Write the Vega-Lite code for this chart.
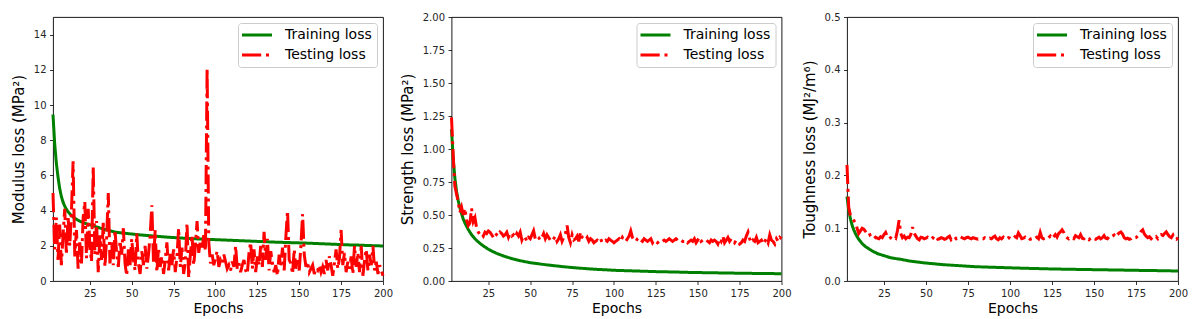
{
"$schema": "https://vega.github.io/schema/vega-lite/v6.json",
"background": "white",
"padding": {"left": 10, "top": 11, "right": 0, "bottom": 0},
"spacing": 9,
"config": {
  "font": "DejaVu Sans",
  "view": {"stroke": "black", "strokeWidth": 0.9},
  "axis": {"grid": false, "domain": false, "tickColor": "black", "tickSize": 3.5, "tickWidth": 0.8, "labelFontSize": 10, "labelColor": "#262626", "labelPadding": 3.5, "titleFontSize": 14, "titleFontWeight": "normal", "titleColor": "black", "labelFont": "DejaVu Sans", "titleFont": "DejaVu Sans"},
  "axisY": {"titlePadding": 7, "titleFontSize": 15},
  "axisX": {"titlePadding": 3, "labelFlush": false}
},
"datasets": {"d": [
{"e":3,"mtr":9.46,"mte":5.0,"str":1.15,"ste":1.24,"ttr":0.16,"tte":0.22},
{"e":4,"mtr":7.8,"mte":1.8,"str":0.93,"ste":0.95,"ttr":0.135,"tte":0.14},
{"e":5,"mtr":6.7,"mte":3.6,"str":0.78,"ste":0.72,"ttr":0.118,"tte":0.125},
{"e":6,"mtr":5.9,"mte":1.2,"str":0.68,"ste":0.66,"ttr":0.106,"tte":0.12},
{"e":7,"mtr":5.25,"mte":3.2,"str":0.61,"ste":0.60,"ttr":0.097,"tte":0.115},
{"e":8,"mtr":4.8,"mte":0.9,"str":0.555,"ste":0.52,"ttr":0.09,"tte":0.11},
{"e":9,"mtr":4.48,"mte":2.6,"str":0.51,"ste":0.56,"ttr":0.084,"tte":0.10},
{"e":10,"mtr":4.25,"mte":4.1,"str":0.47,"ste":0.50,"ttr":0.079,"tte":0.09},
{"e":11,"mtr":4.07,"mte":1.5,"str":0.44,"ste":0.55,"ttr":0.075,"tte":0.095},
{"e":12,"mtr":3.93,"mte":3.7,"str":0.415,"ste":0.46,"ttr":0.071,"tte":0.10},
{"e":13,"mtr":3.82,"mte":2.0,"str":0.39,"ste":0.42,"ttr":0.068,"tte":0.098},
{"e":14,"mtr":3.72,"mte":3.9,"str":0.37,"ste":0.44,"ttr":0.065,"tte":0.094},
{"e":15,"mtr":3.64,"mte":6.8,"str":0.35,"ste":0.55,"ttr":0.063,"tte":0.09},
{"e":16,"mtr":3.57,"mte":1.4,"str":0.335,"ste":0.45,"ttr":0.061,"tte":0.092},
{"e":17,"mtr":3.51,"mte":2.9,"str":0.32,"ste":0.48,"ttr":0.059,"tte":0.085},
{"e":18,"mtr":3.45,"mte":0.7,"str":0.307,"ste":0.40,"ttr":0.057,"tte":0.082},
{"e":19,"mtr":3.40,"mte":2.2,"str":0.296,"ste":0.37,"ttr":0.055,"tte":0.08},
{"e":20,"mtr":3.36,"mte":1.0,"str":0.285,"ste":0.35,"ttr":0.054,"tte":0.083},
{"e":21,"mtr":3.32,"mte":3.6,"str":0.275,"ste":0.36,"ttr":0.052,"tte":0.081},
{"e":22,"mtr":3.28,"mte":4.5,"str":0.266,"ste":0.34,"ttr":0.051,"tte":0.08},
{"e":23,"mtr":3.25,"mte":1.3,"str":0.257,"ste":0.37,"ttr":0.05,"tte":0.084},
{"e":24,"mtr":3.22,"mte":4.1,"str":0.249,"ste":0.36,"ttr":0.049,"tte":0.082},
{"e":25,"mtr":3.19,"mte":2.0,"str":0.241,"ste":0.38,"ttr":0.048,"tte":0.088},
{"e":26,"mtr":3.16,"mte":1.1,"str":0.234,"ste":0.37,"ttr":0.047,"tte":0.092},
{"e":27,"mtr":3.13,"mte":6.5,"str":0.227,"ste":0.35,"ttr":0.046,"tte":0.084},
{"e":28,"mtr":3.10,"mte":1.5,"str":0.221,"ste":0.33,"ttr":0.045,"tte":0.08},
{"e":29,"mtr":3.07,"mte":3.4,"str":0.215,"ste":0.36,"ttr":0.044,"tte":0.082},
{"e":30,"mtr":3.04,"mte":0.5,"str":0.209,"ste":0.35,"ttr":0.0435,"tte":0.08},
{"e":31,"mte":2.6,"ste":0.34,"tte":0.083},
{"e":32,"mte":1.2,"ste":0.37,"tte":0.081},
{"e":33,"mte":3.3,"ste":0.36,"tte":0.095},
{"e":34,"mte":0.8,"ste":0.34,"tte":0.115},
{"e":35,"mtr":2.90,"mte":2.4,"str":0.185,"ste":0.35,"ttr":0.041,"tte":0.09},
{"e":36,"mte":5.0,"ste":0.37,"tte":0.082},
{"e":37,"mte":1.0,"ste":0.33,"tte":0.085},
{"e":38,"mte":2.2,"ste":0.36,"tte":0.08},
{"e":39,"mte":0.9,"ste":0.34,"tte":0.083},
{"e":40,"mtr":2.78,"mte":2.9,"str":0.166,"ste":0.35,"ttr":0.038,"tte":0.082},
{"e":41,"mte":1.6,"ste":0.33,"tte":0.088},
{"e":42,"mte":0.8,"ste":0.36,"tte":0.102},
{"e":43,"mte":2.3,"ste":0.34,"tte":0.09},
{"e":44,"mte":1.5,"ste":0.37,"tte":0.085},
{"e":45,"mtr":2.72,"mte":3.0,"str":0.151,"ste":0.31,"ttr":0.036,"tte":0.08},
{"e":46,"mte":1.0,"ste":0.34,"tte":0.078},
{"e":47,"mte":0.3,"ste":0.33,"tte":0.083},
{"e":48,"mte":1.8,"ste":0.30,"tte":0.082},
{"e":49,"mte":0.9,"ste":0.33,"tte":0.08},
{"e":50,"mtr":2.67,"mte":2.4,"str":0.139,"ste":0.32,"ttr":0.034,"tte":0.081},
{"e":51,"mte":1.2,"ste":0.35,"tte":0.083},
{"e":52,"mte":0.6,"ste":0.38,"tte":0.08},
{"e":53,"mte":2.7,"ste":0.32,"tte":0.079},
{"e":54,"mte":1.0,"ste":0.34,"tte":0.082},
{"e":55,"mtr":2.62,"mte":0.4,"str":0.13,"ste":0.33,"ttr":0.0325,"tte":0.08},
{"e":56,"mte":1.7,"ste":0.31,"tte":0.084},
{"e":57,"mte":0.9,"ste":0.33,"tte":0.079},
{"e":58,"mte":2.0,"ste":0.36,"tte":0.08},
{"e":59,"mte":0.7,"ste":0.32,"tte":0.082},
{"e":60,"mtr":2.58,"mte":1.5,"str":0.122,"ste":0.35,"ttr":0.031,"tte":0.081},
{"e":61,"mte":2.6,"ste":0.33,"tte":0.079},
{"e":62,"mte":4.3,"ste":0.31,"tte":0.08},
{"e":63,"mte":1.1,"ste":0.30,"tte":0.083},
{"e":64,"mte":2.9,"ste":0.32,"tte":0.085},
{"e":65,"mtr":2.54,"mte":0.5,"str":0.115,"ste":0.34,"ttr":0.030,"tte":0.078},
{"e":66,"mte":1.9,"ste":0.30,"tte":0.081},
{"e":67,"mte":0.8,"ste":0.32,"tte":0.084},
{"e":68,"mte":1.4,"ste":0.35,"tte":0.08},
{"e":69,"mte":0.4,"ste":0.30,"tte":0.082},
{"e":70,"mtr":2.50,"mte":1.2,"str":0.108,"ste":0.33,"ttr":0.029,"tte":0.085},
{"e":71,"mte":2.2,"ste":0.36,"tte":0.083},
{"e":72,"mte":0.6,"ste":0.42,"tte":0.081},
{"e":73,"mte":1.6,"ste":0.33,"tte":0.08},
{"e":74,"mte":0.9,"ste":0.29,"tte":0.082},
{"e":75,"mtr":2.47,"mte":1.8,"str":0.102,"ste":0.35,"ttr":0.028,"tte":0.083},
{"e":76,"mte":0.5,"ste":0.31,"tte":0.081},
{"e":77,"mte":1.4,"ste":0.32,"tte":0.08},
{"e":78,"mte":3.0,"ste":0.34,"tte":0.082},
{"e":79,"mte":0.8,"ste":0.30,"tte":0.081},
{"e":80,"mtr":2.44,"mte":1.9,"str":0.097,"ste":0.37,"ttr":0.027,"tte":0.08},
{"e":81,"mte":0.4,"ste":0.33,"tte":0.079},
{"e":82,"mte":1.1,"ste":0.32,"tte":0.08},
{"e":83,"mte":3.3,"ste":0.31,"tte":0.081},
{"e":84,"mte":0.2,"ste":0.33,"tte":0.08},
{"e":85,"mtr":2.41,"mte":1.5,"str":0.092,"ste":0.30,"ttr":0.0265,"tte":0.082},
{"e":86,"mte":2.6,"ste":0.32,"tte":0.08},
{"e":87,"mte":0.9,"ste":0.31,"tte":0.079},
{"e":88,"mte":2.0,"ste":0.29,"tte":0.081},
{"e":89,"mte":3.4,"ste":0.30,"tte":0.08},
{"e":90,"mtr":2.39,"mte":1.6,"str":0.088,"ste":0.31,"ttr":0.026,"tte":0.083},
{"e":91,"mte":2.3,"ste":0.30,"tte":0.085},
{"e":92,"mte":1.8,"ste":0.32,"tte":0.08},
{"e":93,"mte":2.6,"ste":0.29,"tte":0.078},
{"e":94,"mte":1.7,"ste":0.30,"tte":0.082},
{"e":95,"mtr":2.37,"mte":12.1,"str":0.085,"ste":0.31,"ttr":0.0255,"tte":0.08},
{"e":96,"mte":2.2,"ste":0.30,"tte":0.083},
{"e":97,"mte":1.0,"ste":0.32,"tte":0.079},
{"e":98,"mte":1.5,"ste":0.31,"tte":0.08},
{"e":99,"mte":0.9,"ste":0.30,"tte":0.082},
{"e":100,"mtr":2.35,"mte":1.3,"str":0.081,"ste":0.29,"ttr":0.025,"tte":0.081},
{"e":101,"mte":1.7,"ste":0.30,"tte":0.079},
{"e":102,"mte":0.8,"ste":0.31,"tte":0.08},
{"e":103,"mte":1.2,"ste":0.32,"tte":0.084},
{"e":104,"mte":1.0,"ste":0.30,"tte":0.082},
{"e":105,"mtr":2.33,"mte":1.5,"str":0.079,"ste":0.33,"ttr":0.0245,"tte":0.091},
{"e":106,"mte":1.1,"ste":0.31,"tte":0.086},
{"e":107,"mte":0.7,"ste":0.30,"tte":0.08},
{"e":108,"mte":0.9,"ste":0.32,"tte":0.081},
{"e":109,"mte":0.6,"ste":0.34,"tte":0.083},
{"e":110,"mtr":2.31,"mte":1.1,"str":0.077,"ste":0.38,"ttr":0.024,"tte":0.08},
{"e":111,"mte":0.8,"ste":0.33,"tte":0.082},
{"e":112,"mte":2.0,"ste":0.31,"tte":0.079},
{"e":113,"mte":0.7,"ste":0.30,"tte":0.08},
{"e":114,"mte":1.0,"ste":0.32,"tte":0.078},
{"e":115,"mtr":2.29,"mte":0.5,"str":0.075,"ste":0.33,"ttr":0.0236,"tte":0.081},
{"e":116,"mte":0.9,"ste":0.31,"tte":0.083},
{"e":117,"mte":1.2,"ste":0.30,"tte":0.08},
{"e":118,"mte":0.6,"ste":0.32,"tte":0.092},
{"e":119,"mte":0.4,"ste":0.31,"tte":0.082},
{"e":120,"mtr":2.27,"mte":1.6,"str":0.073,"ste":0.30,"ttr":0.0232,"tte":0.08},
{"e":121,"mte":2.2,"ste":0.31,"tte":0.081},
{"e":122,"mte":0.7,"ste":0.32,"tte":0.079},
{"e":123,"mte":1.8,"ste":0.29,"tte":0.082},
{"e":124,"mte":0.5,"ste":0.31,"tte":0.085},
{"e":125,"mtr":2.25,"mte":1.4,"str":0.071,"ste":0.30,"ttr":0.0228,"tte":0.08},
{"e":126,"mte":0.9,"ste":0.29,"tte":0.084},
{"e":127,"mte":2.0,"ste":0.30,"tte":0.088},
{"e":128,"mte":0.8,"ste":0.31,"tte":0.083},
{"e":129,"mte":2.8,"ste":0.30,"tte":0.09},
{"e":130,"mtr":2.23,"mte":1.2,"str":0.070,"ste":0.31,"ttr":0.0225,"tte":0.093},
{"e":131,"mte":2.4,"ste":0.30,"tte":0.097},
{"e":132,"mte":0.6,"ste":0.31,"tte":0.092},
{"e":133,"mte":1.7,"ste":0.32,"tte":0.085},
{"e":134,"mte":1.0,"ste":0.31,"tte":0.082},
{"e":135,"mtr":2.21,"mte":0.5,"str":0.068,"ste":0.30,"ttr":0.0222,"tte":0.08},
{"e":136,"mte":0.9,"ste":0.31,"tte":0.083},
{"e":137,"mte":0.3,"ste":0.32,"tte":0.081},
{"e":138,"mte":1.5,"ste":0.31,"tte":0.08},
{"e":139,"mte":0.8,"ste":0.30,"tte":0.086},
{"e":140,"mtr":2.195,"mte":1.9,"str":0.067,"ste":0.31,"ttr":0.022,"tte":0.084},
{"e":141,"mte":0.6,"ste":0.30,"tte":0.082},
{"e":142,"mte":2.5,"ste":0.30,"tte":0.088},
{"e":143,"mte":4.0,"ste":0.31,"tte":0.081},
{"e":144,"mte":1.2,"ste":0.29,"tte":0.08},
{"e":145,"mtr":2.18,"mte":1.0,"str":0.065,"ste":0.30,"ttr":0.0217,"tte":0.083},
{"e":146,"mte":0.4,"ste":0.31,"tte":0.08},
{"e":147,"mte":1.8,"ste":0.30,"tte":0.078},
{"e":148,"mte":0.7,"ste":0.32,"tte":0.081},
{"e":149,"mte":1.3,"ste":0.29,"tte":0.083},
{"e":150,"mtr":2.165,"mte":0.6,"str":0.064,"ste":0.31,"ttr":0.0215,"tte":0.08},
{"e":151,"mte":2.0,"ste":0.33,"tte":0.079},
{"e":152,"mte":3.8,"ste":0.30,"tte":0.081},
{"e":153,"mte":1.5,"ste":0.31,"tte":0.083},
{"e":154,"mte":0.8,"ste":0.30,"tte":0.08},
{"e":155,"mtr":2.15,"mte":1.1,"str":0.063,"ste":0.31,"ttr":0.0212,"tte":0.082},
{"e":156,"mte":0.5,"ste":0.30,"tte":0.086},
{"e":157,"mte":0.7,"ste":0.29,"tte":0.081},
{"e":158,"mte":0.9,"ste":0.31,"tte":0.08},
{"e":159,"mte":0.4,"ste":0.30,"tte":0.084},
{"e":160,"mtr":2.13,"mte":0.7,"str":0.062,"ste":0.31,"ttr":0.021,"tte":0.082},
{"e":161,"mte":0.6,"ste":0.30,"tte":0.085},
{"e":162,"mte":0.9,"ste":0.28,"tte":0.087},
{"e":163,"mte":0.5,"ste":0.32,"tte":0.083},
{"e":164,"mte":0.8,"ste":0.30,"tte":0.088},
{"e":165,"mtr":2.11,"mte":0.4,"str":0.061,"ste":0.34,"ttr":0.0207,"tte":0.091},
{"e":166,"mte":1.2,"ste":0.29,"tte":0.093},
{"e":167,"mte":0.6,"ste":0.31,"tte":0.089},
{"e":168,"mte":1.4,"ste":0.33,"tte":0.082},
{"e":169,"mte":0.9,"ste":0.30,"tte":0.08},
{"e":170,"mtr":2.09,"mte":0.3,"str":0.060,"ste":0.32,"ttr":0.0205,"tte":0.081},
{"e":171,"mte":1.0,"ste":0.31,"tte":0.079},
{"e":172,"mte":1.8,"ste":0.29,"tte":0.08},
{"e":173,"mte":0.7,"ste":0.31,"tte":0.083},
{"e":174,"mte":1.3,"ste":0.30,"tte":0.081},
{"e":175,"mtr":2.07,"mte":2.9,"str":0.059,"ste":0.28,"ttr":0.0202,"tte":0.082},
{"e":176,"mte":0.9,"ste":0.29,"tte":0.085},
{"e":177,"mte":1.6,"ste":0.31,"tte":0.088},
{"e":178,"mte":0.5,"ste":0.30,"tte":0.094},
{"e":179,"mte":1.1,"ste":0.34,"tte":0.097},
{"e":180,"mtr":2.05,"mte":0.7,"str":0.058,"ste":0.37,"ttr":0.02,"tte":0.089},
{"e":181,"mte":1.4,"ste":0.32,"tte":0.085},
{"e":182,"mte":0.4,"ste":0.29,"tte":0.082},
{"e":183,"mte":2.0,"ste":0.31,"tte":0.084},
{"e":184,"mte":0.8,"ste":0.30,"tte":0.08},
{"e":185,"mtr":2.04,"mte":1.6,"str":0.0575,"ste":0.33,"ttr":0.0198,"tte":0.083},
{"e":186,"mte":0.5,"ste":0.29,"tte":0.081},
{"e":187,"mte":2.0,"ste":0.30,"tte":0.084},
{"e":188,"mte":0.3,"ste":0.31,"tte":0.08},
{"e":189,"mte":1.2,"ste":0.28,"tte":0.085},
{"e":190,"mtr":2.02,"mte":1.8,"str":0.057,"ste":0.30,"ttr":0.0195,"tte":0.088},
{"e":191,"mte":0.6,"ste":0.32,"tte":0.086},
{"e":192,"mte":1.5,"ste":0.29,"tte":0.09},
{"e":193,"mte":0.9,"ste":0.35,"tte":0.093},
{"e":194,"mte":2.0,"ste":0.31,"tte":0.088},
{"e":195,"mtr":2.005,"mte":0.6,"str":0.056,"ste":0.30,"ttr":0.0192,"tte":0.084},
{"e":196,"mte":1.1,"ste":0.28,"tte":0.082},
{"e":197,"mte":0.4,"ste":0.32,"tte":0.087},
{"e":198,"mte":0.9,"ste":0.30,"tte":0.08},
{"e":199,"mte":0.6,"ste":0.33,"tte":0.079},
{"e":200,"mtr":1.99,"mte":0.3,"str":0.055,"ste":0.32,"ttr":0.019,"tte":0.082}
]},
"hconcat": [
{
"spacing": 6.5,
"hconcat": [
{
  "width": 330, "height": 264,
  "data": {"name": "d"},
  "transform": [{"fold": ["mtr", "mte"], "as": ["k", "v"]}, {"filter": "isValid(datum.v)"}],
  "mark": {"type": "line", "strokeWidth": 3},
  "encoding": {
    "x": {"field": "e", "type": "quantitative", "scale": {"domain": [3, 200], "nice": false, "zero": false}, "axis": {"values": [25, 50, 75, 100, 125, 150, 175, 200], "title": "Epochs"}},
    "y": {"field": "v", "type": "quantitative", "scale": {"domain": [0, 15], "nice": false}, "axis": {"values": [0, 2, 4, 6, 8, 10, 12, 14], "title": "Modulus loss (MPa²)"}},
    "color": {"field": "k", "type": "nominal", "scale": {"domain": ["mtr", "mte"], "range": ["#008000", "#ff0000"]},
      "legend": {"title": null, "orient": "top-right", "offset": 6, "padding": 5, "fillColor": "rgba(255,255,255,0.85)", "strokeColor": "#cccccc", "cornerRadius": 3, "labelFontSize": 14, "labelColor": "black", "labelFont": "DejaVu Sans", "symbolType": "M-3,0H3", "symbolSize": 100, "symbolStrokeWidth": 3, "symbolOffset": 7, "labelOffset": 21, "rowPadding": 6, "labelLimit": 300, "labelExpr": "substring(datum.value,1) == 'tr' ? 'Training loss' : 'Testing loss'"}},
    "strokeDash": {"field": "k", "type": "nominal", "scale": {"domain": ["mtr", "mte"], "range": [[1, 0], [19.2, 4.8, 3, 4.8]]},
      "legend": {"title": null, "orient": "top-right", "offset": 6, "padding": 5, "fillColor": "rgba(255,255,255,0.85)", "strokeColor": "#cccccc", "cornerRadius": 3, "labelFontSize": 14, "labelColor": "black", "labelFont": "DejaVu Sans", "symbolType": "M-3,0H3", "symbolSize": 100, "symbolStrokeWidth": 3, "symbolOffset": 7, "labelOffset": 21, "rowPadding": 6, "labelLimit": 300, "labelExpr": "substring(datum.value,1) == 'tr' ? 'Training loss' : 'Testing loss'"}}
  }
},
{
  "width": 330, "height": 264,
  "data": {"name": "d"},
  "transform": [{"fold": ["str", "ste"], "as": ["k", "v"]}, {"filter": "isValid(datum.v)"}],
  "mark": {"type": "line", "strokeWidth": 3},
  "encoding": {
    "x": {"field": "e", "type": "quantitative", "scale": {"domain": [3, 200], "nice": false, "zero": false}, "axis": {"values": [25, 50, 75, 100, 125, 150, 175, 200], "title": "Epochs"}},
    "y": {"field": "v", "type": "quantitative", "scale": {"domain": [0, 2], "nice": false}, "axis": {"values": [0, 0.25, 0.5, 0.75, 1, 1.25, 1.5, 1.75, 2], "format": ".2f", "title": "Strength loss (MPa²)"}},
    "color": {"field": "k", "type": "nominal", "scale": {"domain": ["str", "ste"], "range": ["#008000", "#ff0000"]},
      "legend": {"title": null, "orient": "top-right", "offset": 6, "padding": 5, "fillColor": "rgba(255,255,255,0.85)", "strokeColor": "#cccccc", "cornerRadius": 3, "labelFontSize": 14, "labelColor": "black", "labelFont": "DejaVu Sans", "symbolType": "M-3,0H3", "symbolSize": 100, "symbolStrokeWidth": 3, "symbolOffset": 7, "labelOffset": 21, "rowPadding": 6, "labelLimit": 300, "labelExpr": "substring(datum.value,1) == 'tr' ? 'Training loss' : 'Testing loss'"}},
    "strokeDash": {"field": "k", "type": "nominal", "scale": {"domain": ["str", "ste"], "range": [[1, 0], [19.2, 4.8, 3, 4.8]]},
      "legend": {"title": null, "orient": "top-right", "offset": 6, "padding": 5, "fillColor": "rgba(255,255,255,0.85)", "strokeColor": "#cccccc", "cornerRadius": 3, "labelFontSize": 14, "labelColor": "black", "labelFont": "DejaVu Sans", "symbolType": "M-3,0H3", "symbolSize": 100, "symbolStrokeWidth": 3, "symbolOffset": 7, "labelOffset": 21, "rowPadding": 6, "labelLimit": 300, "labelExpr": "substring(datum.value,1) == 'tr' ? 'Training loss' : 'Testing loss'"}}
  }
}
],
"resolve": {"scale": {"x": "independent", "y": "independent", "color": "independent", "strokeDash": "independent"}, "legend": {"color": "independent", "strokeDash": "independent"}}
},
{
  "width": 331, "height": 264,
  "data": {"name": "d"},
  "transform": [{"fold": ["ttr", "tte"], "as": ["k", "v"]}, {"filter": "isValid(datum.v)"}],
  "mark": {"type": "line", "strokeWidth": 3},
  "encoding": {
    "x": {"field": "e", "type": "quantitative", "scale": {"domain": [3, 200], "nice": false, "zero": false}, "axis": {"values": [25, 50, 75, 100, 125, 150, 175, 200], "title": "Epochs"}},
    "y": {"field": "v", "type": "quantitative", "scale": {"domain": [0, 0.5], "nice": false}, "axis": {"values": [0, 0.1, 0.2, 0.3, 0.4, 0.5], "format": ".1f", "title": "Toughness loss (MJ²/m⁶)"}},
    "color": {"field": "k", "type": "nominal", "scale": {"domain": ["ttr", "tte"], "range": ["#008000", "#ff0000"]},
      "legend": {"title": null, "orient": "top-right", "offset": 6, "padding": 5, "fillColor": "rgba(255,255,255,0.85)", "strokeColor": "#cccccc", "cornerRadius": 3, "labelFontSize": 14, "labelColor": "black", "labelFont": "DejaVu Sans", "symbolType": "M-3,0H3", "symbolSize": 100, "symbolStrokeWidth": 3, "symbolOffset": 7, "labelOffset": 21, "rowPadding": 6, "labelLimit": 300, "labelExpr": "substring(datum.value,1) == 'tr' ? 'Training loss' : 'Testing loss'"}},
    "strokeDash": {"field": "k", "type": "nominal", "scale": {"domain": ["ttr", "tte"], "range": [[1, 0], [19.2, 4.8, 3, 4.8]]},
      "legend": {"title": null, "orient": "top-right", "offset": 6, "padding": 5, "fillColor": "rgba(255,255,255,0.85)", "strokeColor": "#cccccc", "cornerRadius": 3, "labelFontSize": 14, "labelColor": "black", "labelFont": "DejaVu Sans", "symbolType": "M-3,0H3", "symbolSize": 100, "symbolStrokeWidth": 3, "symbolOffset": 7, "labelOffset": 21, "rowPadding": 6, "labelLimit": 300, "labelExpr": "substring(datum.value,1) == 'tr' ? 'Training loss' : 'Testing loss'"}}
  }
}
],
"resolve": {"scale": {"x": "independent", "y": "independent", "color": "independent", "strokeDash": "independent"}, "legend": {"color": "independent", "strokeDash": "independent"}}
}
